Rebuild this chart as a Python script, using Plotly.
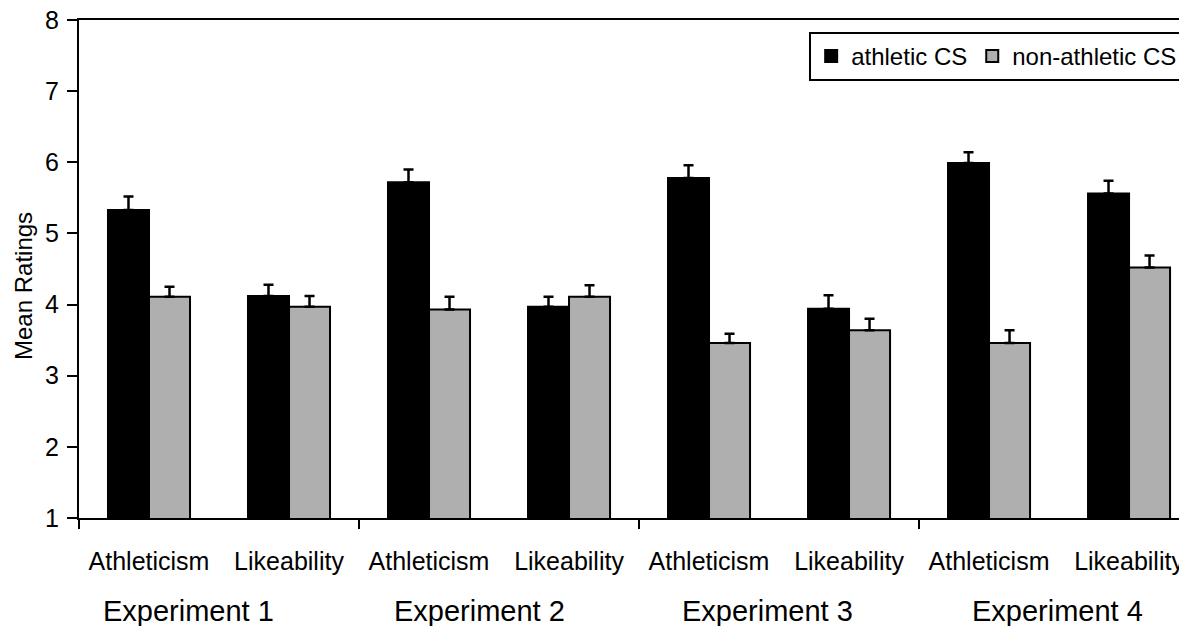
import plotly.graph_objects as go

# ---- data ----
subcategories = ["Athleticism", "Likeability", "Athleticism", "Likeability",
                 "Athleticism", "Likeability", "Athleticism", "Likeability"]
experiments = ["Experiment 1", "Experiment 2", "Experiment 3", "Experiment 4"]
athletic_cs = [5.33, 4.12, 5.72, 3.97, 5.78, 3.94, 5.99, 5.56]
athletic_cs_err = [0.19, 0.16, 0.18, 0.14, 0.18, 0.19, 0.15, 0.18]
non_athletic_cs = [4.11, 3.97, 3.93, 4.11, 3.46, 3.64, 3.46, 4.52]
non_athletic_cs_err = [0.14, 0.15, 0.18, 0.16, 0.13, 0.16, 0.18, 0.17]
y_ticks = [1, 2, 3, 4, 5, 6, 7, 8]

# ---- layout constants ----
FONT = "Liberation Sans, Arial, sans-serif"
x = list(range(len(subcategories)))
group_bounds = [i - 0.5 for i in range(0, len(subcategories) + 1, 2)]
exp_label_x = [0.28, 2.36, 4.42, 6.49]

fig = go.Figure()
fig.add_trace(go.Bar(
    x=x, y=athletic_cs, name="athletic CS",
    marker=dict(color="#000000", line=dict(color="#000000", width=2)),
    error_y=dict(type="data", array=athletic_cs_err, arrayminus=[0] * len(x),
                 symmetric=False, color="#000000", thickness=2.5, width=5),
))
fig.add_trace(go.Bar(
    x=x, y=non_athletic_cs, name="non-athletic CS",
    marker=dict(color="#AFAFAF", line=dict(color="#000000", width=2)),
    error_y=dict(type="data", array=non_athletic_cs_err, arrayminus=[0] * len(x),
                 symmetric=False, color="#000000", thickness=2.5, width=5),
))

for ex, label in zip(exp_label_x, experiments):
    fig.add_annotation(x=ex, xref="x", y=-0.1876, yref="paper", text=label,
                       showarrow=False, xanchor="center", yanchor="middle",
                       font=dict(family=FONT, size=29, color="#000000"))

fig.add_annotation(x=-0.0496, xref="paper", y=0.466, yref="paper",
                   text="Mean Ratings", textangle=-90, showarrow=False,
                   xanchor="center", yanchor="middle",
                   font=dict(family=FONT, size=24, color="#000000"))

# page body has an 8px default margin, so the figure is sized to fill the rest
fig.update_layout(
    width=1179, height=618,
    margin=dict(l=71, r=0, t=12, b=108, autoexpand=False),
    paper_bgcolor="white", plot_bgcolor="white",
    barmode="group", bargap=0.414, bargroupgap=0,
    font=dict(family=FONT, color="#000000"),
    legend=dict(orientation="h", x=0.659, xanchor="left", y=0.976, yanchor="top",
                bordercolor="#000000", borderwidth=2, bgcolor="white",
                font=dict(family=FONT, size=24, color="#000000"),
                traceorder="normal"),
    showlegend=True,
)
fig.update_xaxes(
    range=[-0.5, 7.414], tickmode="array", tickvals=x, ticktext=subcategories,
    ticks="", showgrid=False, zeroline=False, automargin=False,
    showline=True, linecolor="#000000", linewidth=2, mirror=True,
    tickfont=dict(family=FONT, size=25, color="#000000"),
    ticklabelstandoff=20, ticklabeloverflow="allow",
    minor=dict(tickmode="array", tickvals=group_bounds, ticks="outside",
               ticklen=9, tickwidth=1.5, tickcolor="#000000", showgrid=False),
)
fig.update_yaxes(
    range=[1, 8], tickmode="array", tickvals=y_ticks, ticks="outside",
    ticklen=10, tickwidth=2, tickcolor="#000000",
    showgrid=False, zeroline=False, automargin=False,
    showline=True, linecolor="#000000", linewidth=2,
    tickfont=dict(family=FONT, size=25, color="#000000"),
    ticklabelstandoff=3, ticklabeloverflow="allow",
)

fig.write_html("out.html")
